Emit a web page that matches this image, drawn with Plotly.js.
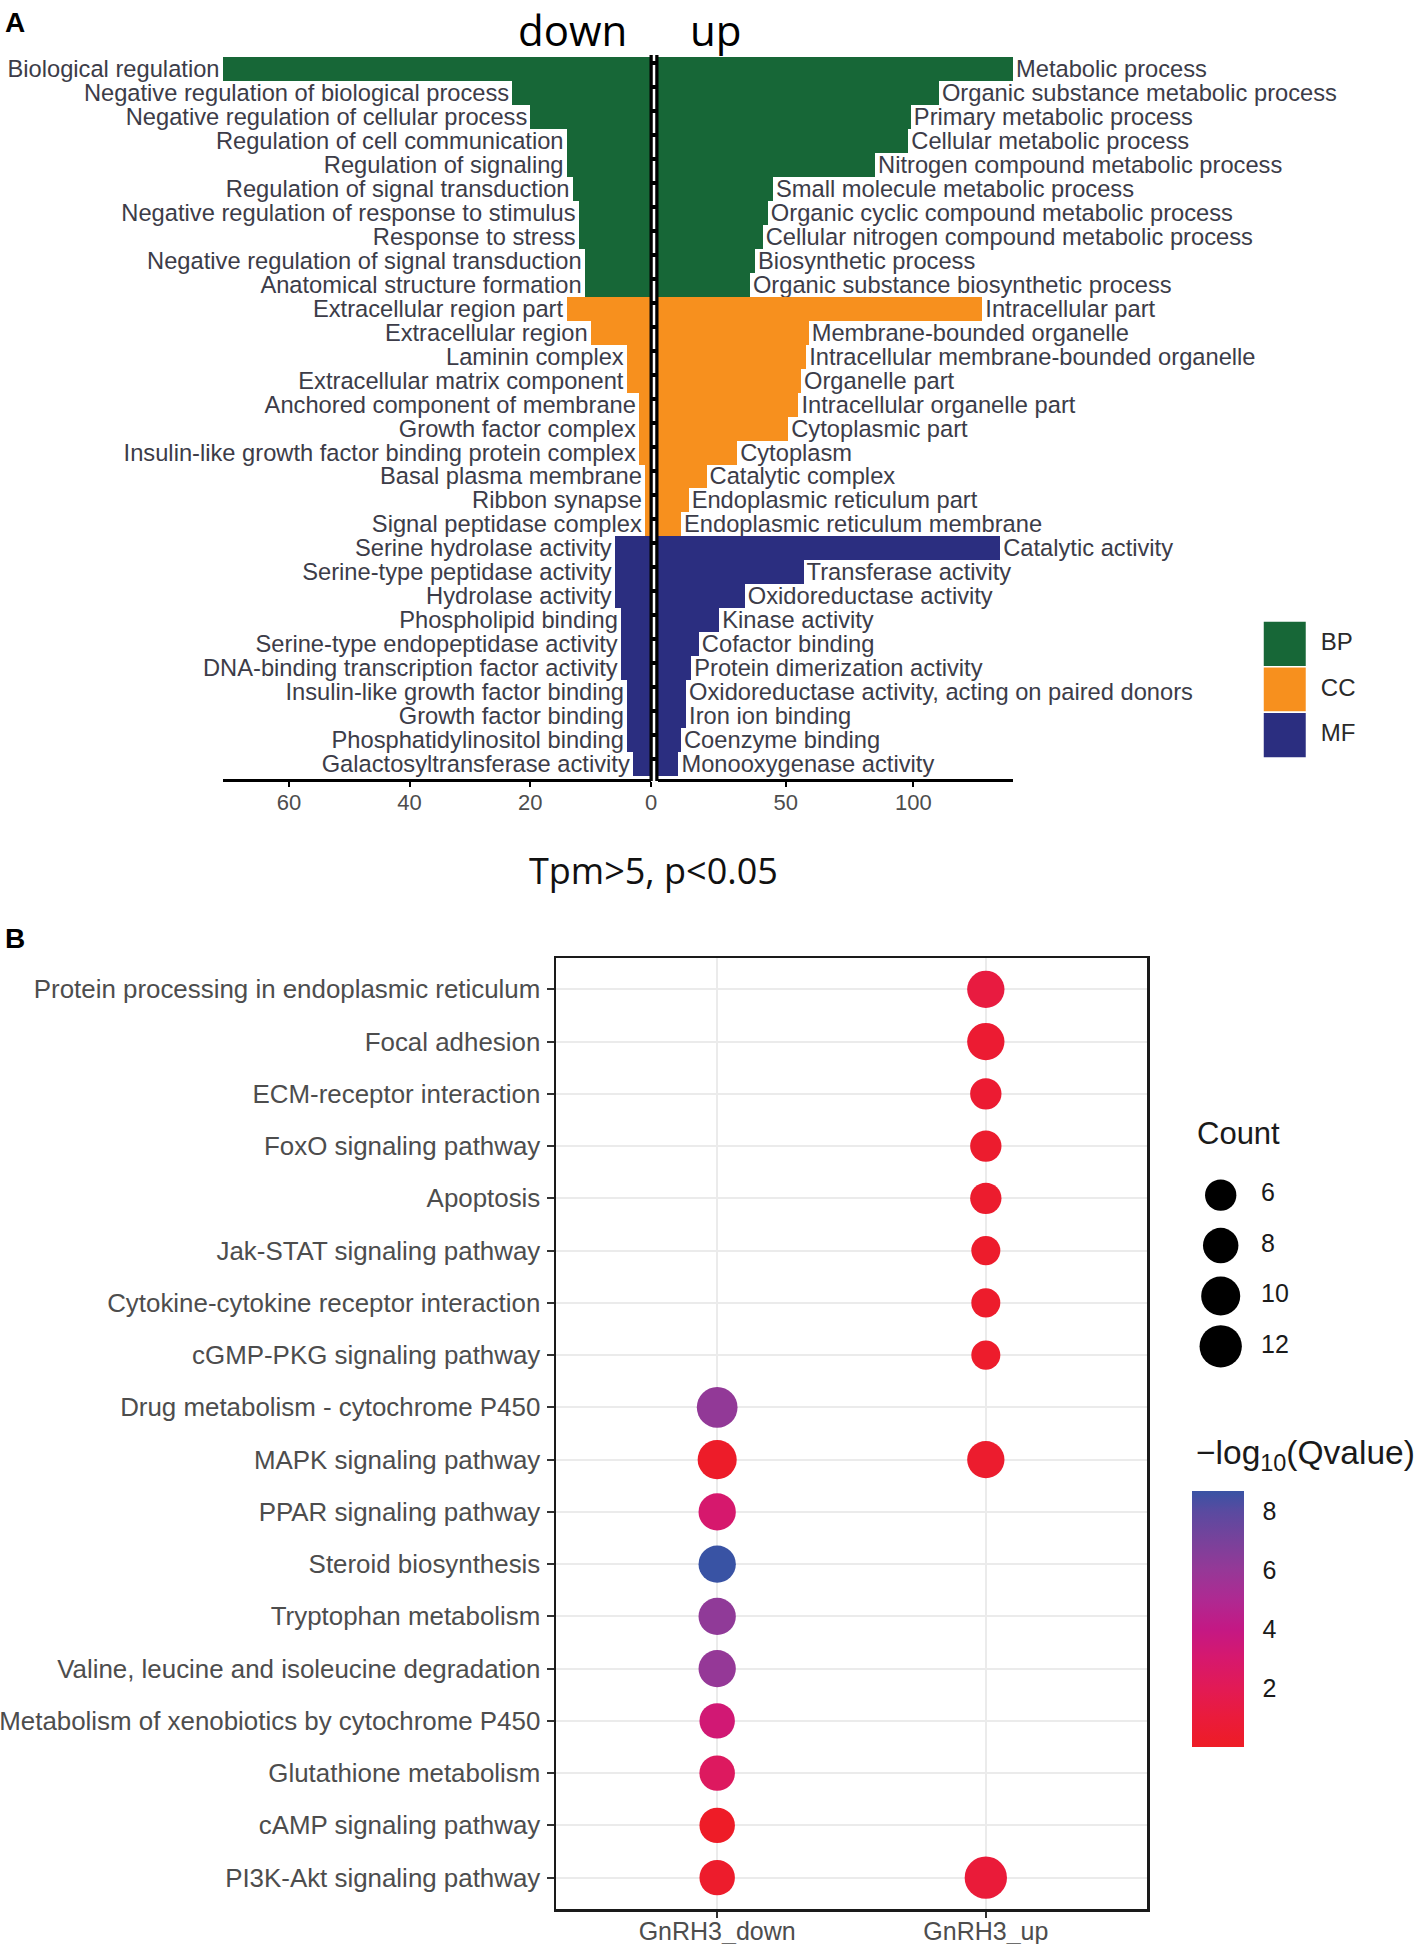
<!DOCTYPE html>
<html>
<head>
<meta charset="utf-8">
<script src="https://cdn.plot.ly/plotly-3.0.1.min.js"></script>
<style>html,body{margin:0;padding:0;background:#fff;}#chart{width:1417px;height:1944px;}</style>
</head>
<body>
<div id="chart"></div>
<script>
// ---------------- Panel A data ----------------
const goCategories = ["BP","BP","BP","BP","BP","BP","BP","BP","BP","BP",
  "CC","CC","CC","CC","CC","CC","CC","CC","CC","CC",
  "MF","MF","MF","MF","MF","MF","MF","MF","MF","MF"];

const downTerms = [
  "Biological regulation","Negative regulation of biological process","Negative regulation of cellular process",
  "Regulation of cell communication","Regulation of signaling","Regulation of signal transduction",
  "Negative regulation of response to stimulus","Response to stress","Negative regulation of signal transduction",
  "Anatomical structure formation",
  "Extracellular region part","Extracellular region","Laminin complex","Extracellular matrix component",
  "Anchored component of membrane","Growth factor complex","Insulin-like growth factor binding protein complex",
  "Basal plasma membrane","Ribbon synapse","Signal peptidase complex",
  "Serine hydrolase activity","Serine-type peptidase activity","Hydrolase activity","Phospholipid binding",
  "Serine-type endopeptidase activity","DNA-binding transcription factor activity","Insulin-like growth factor binding",
  "Growth factor binding","Phosphatidylinositol binding","Galactosyltransferase activity"];
const downCounts = [71,23,20,14,14,13,12,12,11,11,
  14,10,4,4,2,2,2,1,1,1,
  6,6,6,5,5,5,4,4,4,3];

const upTerms = [
  "Metabolic process","Organic substance metabolic process","Primary metabolic process","Cellular metabolic process",
  "Nitrogen compound metabolic process","Small molecule metabolic process","Organic cyclic compound metabolic process",
  "Cellular nitrogen compound metabolic process","Biosynthetic process","Organic substance biosynthetic process",
  "Intracellular part","Membrane-bounded organelle","Intracellular membrane-bounded organelle","Organelle part",
  "Intracellular organelle part","Cytoplasmic part","Cytoplasm","Catalytic complex","Endoplasmic reticulum part",
  "Endoplasmic reticulum membrane",
  "Catalytic activity","Transferase activity","Oxidoreductase activity","Kinase activity","Cofactor binding",
  "Protein dimerization activity","Oxidoreductase activity, acting on paired donors","Iron ion binding",
  "Coenzyme binding","Monooxygenase activity"];
const upCounts = [139,110,99,98,85,45,43,41,38,36,
  127,59,58,56,55,51,31,19,12,9,
  134,57,34,24,16,13,11,11,9,8];

const legendCategories = ["BP","CC","MF"];

// ---------------- Panel B data ----------------
const keggTerms = [
  "Protein processing in endoplasmic reticulum","Focal adhesion","ECM-receptor interaction","FoxO signaling pathway",
  "Apoptosis","Jak-STAT signaling pathway","Cytokine-cytokine receptor interaction","cGMP-PKG signaling pathway",
  "Drug metabolism - cytochrome P450","MAPK signaling pathway","PPAR signaling pathway","Steroid biosynthesis",
  "Tryptophan metabolism","Valine, leucine and isoleucine degradation","Metabolism of xenobiotics by cytochrome P450",
  "Glutathione metabolism","cAMP signaling pathway","PI3K-Akt signaling pathway"];
const keggGroups = ["GnRH3_down","GnRH3_up"];

const pointTerm = [
  "Protein processing in endoplasmic reticulum","Focal adhesion","ECM-receptor interaction","FoxO signaling pathway",
  "Apoptosis","Jak-STAT signaling pathway","Cytokine-cytokine receptor interaction","cGMP-PKG signaling pathway",
  "MAPK signaling pathway","PI3K-Akt signaling pathway",
  "Drug metabolism - cytochrome P450","MAPK signaling pathway","PPAR signaling pathway","Steroid biosynthesis",
  "Tryptophan metabolism","Valine, leucine and isoleucine degradation","Metabolism of xenobiotics by cytochrome P450",
  "Glutathione metabolism","cAMP signaling pathway","PI3K-Akt signaling pathway"];
const pointGroup = ["GnRH3_up","GnRH3_up","GnRH3_up","GnRH3_up","GnRH3_up","GnRH3_up","GnRH3_up","GnRH3_up","GnRH3_up","GnRH3_up",
  "GnRH3_down","GnRH3_down","GnRH3_down","GnRH3_down","GnRH3_down","GnRH3_down","GnRH3_down","GnRH3_down","GnRH3_down","GnRH3_down"];
const pointCount = [9,9,6,6,6,5,5,5,9,12, 11,10,9,9,9,9,8,8,8,8];
const pointQvalue = [1.2,0.6,0.6,0.4,0.4,0.3,0.3,0.3,0.4,0.9, 6.1,0.2,3.0,8.67,6.2,6.0,3.3,2.4,0.1,0.3];

const countBreaks = [6,8,10,12];
const countBreakLabels = ["6","8","10","12"];
const colorTicks = [2,4,6,8];

// ---------------- styling ----------------
const W = 1417, H = 1944;
const px = v => v / W, py = v => 1 - v / H;
const ARIAL = "Arial, 'Liberation Sans', sans-serif";
const catColors = {BP:"#176737", CC:"#f7901e", MF:"#2b2e80"};
const labelFont = {family:ARIAL, size:23.7, color:"#3c3c48"};
const sizeOf = c => 10.83 * Math.sqrt(c) + 4.8;
const qScale = [[0,"#ee1c25"],[0.115,"#ea1b3b"],[0.23,"#e21a55"],[0.35,"#d6186e"],[0.46,"#c41884"],
  [0.58,"#ae2a92"],[0.69,"#963897"],[0.81,"#77429b"],[0.92,"#5a4aa0"],[1,"#3953a4"]];

const rowIdx = downTerms.map((_, i) => i);

const traces = [
  { type:"bar", orientation:"h", xaxis:"x", yaxis:"y",
    x: downCounts, y: rowIdx, width: 1,
    marker:{color: goCategories.map(c => catColors[c]), line:{width:0}},
    text: downTerms, textposition:"outside", cliponaxis:false, constraintext:"none", textangle:0,
    outsidetextfont: labelFont, hoverinfo:"skip" },
  { type:"bar", orientation:"h", xaxis:"x2", yaxis:"y",
    x: upCounts, y: rowIdx, width: 1,
    marker:{color: goCategories.map(c => catColors[c]), line:{width:0}},
    text: upTerms, textposition:"outside", cliponaxis:false, constraintext:"none", textangle:0,
    outsidetextfont: labelFont, hoverinfo:"skip" },
  // GO category key
  { type:"bar", orientation:"h", xaxis:"x5", yaxis:"y5",
    x: legendCategories.map(() => 1), y: legendCategories, width: 1,
    marker:{color: legendCategories.map(c => catColors[c]), line:{color:"#ffffff", width:1.5}},
    hoverinfo:"skip" },
  { type:"scatter", mode:"text", xaxis:"x5", yaxis:"y5",
    x: legendCategories.map(() => 1.33), y: legendCategories, text: legendCategories,
    textposition:"middle right", cliponaxis:false,
    textfont:{family:ARIAL, size:24, color:"#2a2a2a"}, hoverinfo:"skip" },
  // KEGG bubbles
  { type:"scatter", mode:"markers", xaxis:"x3", yaxis:"y3",
    x: pointGroup, y: pointTerm, cliponaxis:false,
    marker:{ size: pointCount.map(sizeOf), sizemode:"diameter", opacity:1,
      color: pointQvalue, colorscale: qScale, cmin: 0, cmax: Math.max(...pointQvalue),
      line:{width:0},
      showscale:true,
      colorbar:{ x:px(1192), xanchor:"left", xref:"paper", y:py(1619), yanchor:"middle", yref:"paper",
        len:256, lenmode:"pixels", thickness:52, thicknessmode:"pixels", xpad:0, ypad:0,
        outlinewidth:0, tickvals: colorTicks, ticks:"outside", ticklen:14, tickcolor:"rgba(0,0,0,0)",
        tickfont:{family:ARIAL, size:25, color:"#1a1a1a"} } },
    hoverinfo:"skip" },
  // Count size key
  { type:"scatter", mode:"markers", xaxis:"x4", yaxis:"y4",
    x: countBreaks.map(() => 30.7), y: countBreaks, cliponaxis:false,
    marker:{size: countBreaks.map(sizeOf), sizemode:"diameter", color:"#000000", opacity:1, line:{width:0}},
    hoverinfo:"skip" },
  { type:"scatter", mode:"text", xaxis:"x4", yaxis:"y4",
    x: countBreaks.map(() => 71), y: countBreaks, text: countBreakLabels,
    textposition:"middle right", cliponaxis:false,
    textfont:{family:ARIAL, size:25, color:"#1a1a1a"}, hoverinfo:"skip" }
];

const axA = {
  showline:true, linecolor:"#000000", linewidth:3, ticks:"outside", ticklen:5, tickwidth:2, tickcolor:"#000000",
  tickfont:{family:ARIAL, size:22, color:"#4d4d4d"}, ticklabelstandoff:-3,
  showgrid:false, zeroline:false, fixedrange:true, anchor:"y"
};

const layout = {
  width:W, height:H, margin:{l:0, r:0, t:0, b:0},
  paper_bgcolor:"#ffffff", plot_bgcolor:"#ffffff",
  showlegend:false, bargap:0,
  font:{family:ARIAL, color:"#333333"},
  xaxis: Object.assign({}, axA, {domain:[px(222.5), px(651)], range:[71, 0], tickvals:[0,20,40,60]}),
  xaxis2: Object.assign({}, axA, {domain:[px(658), px(1013)], range:[0, 139], tickvals:[50,100]}),
  yaxis: {domain:[py(779), py(57)], range:[29.62, -0.5], visible:false, fixedrange:true},
  xaxis3: {domain:[px(556), px(1147)], anchor:"y3", type:"category", categoryarray:keggGroups, categoryorder:"array",
    range:[-0.6, 1.6], showline:true, mirror:true, linecolor:"#1a1a1a", linewidth:2.5,
    showgrid:true, gridcolor:"#ebebeb", gridwidth:2, zeroline:false,
    ticks:"outside", ticklen:6, tickwidth:2, tickcolor:"#333333", ticklabelstandoff:-8,
    tickfont:{family:ARIAL, size:25, color:"#4d4d4d"}},
  yaxis3: {domain:[py(1909), py(958)], anchor:"x3", type:"category", categoryarray:keggTerms, categoryorder:"array",
    range:[17.6, -0.6], showline:true, mirror:true, linecolor:"#1a1a1a", linewidth:2.5,
    showgrid:true, gridcolor:"#ebebeb", gridwidth:2, zeroline:false,
    ticks:"outside", ticklen:7, tickwidth:2, tickcolor:"#333333", ticklabelstandoff:1,
    tickfont:{family:ARIAL, size:25.9, color:"#4d4d4d"}},
  xaxis4: {domain:[px(1190), px(1300)], anchor:"y4", range:[0, 110], visible:false},
  yaxis4: {domain:[py(1371.5), py(1170)], anchor:"x4", range:[13, 5], visible:false},
  xaxis5: {domain:[px(1263), px(1400)], anchor:"y5", range:[0, 3.15], visible:false},
  yaxis5: {domain:[py(758), py(621)], anchor:"x5", type:"category", categoryarray:legendCategories,
    categoryorder:"array", range:[2.5, -0.5], visible:false},
  shapes: [
    {type:"line", xref:"paper", yref:"paper", x0:px(654), x1:px(654), y0:py(781), y1:py(55),
      line:{color:"#000000", width:9}},
    {type:"line", xref:"paper", yref:"paper", x0:px(654), x1:px(654), y0:py(781), y1:py(55),
      line:{color:"#ffffff", width:2.5, dash:"20px,4px"}}
  ],
  annotations: [
    {text:"<b>A</b>", xref:"paper", yref:"paper", x:px(3), y:py(22.5), xanchor:"left", yanchor:"middle",
      showarrow:false, font:{family:ARIAL, size:28, color:"#000000"}},
    {text:"down", xref:"paper", yref:"paper", x:px(628), y:1, xanchor:"right", yanchor:"top", borderpad:0,
      showarrow:false, font:{family:"'Open Sans', sans-serif", size:42, color:"#000000"}},
    {text:"up", xref:"paper", yref:"paper", x:px(689), y:1, xanchor:"left", yanchor:"top", borderpad:0,
      showarrow:false, font:{family:"'Open Sans', sans-serif", size:42, color:"#000000"}},
    {text:"Tpm&gt;5, p&lt;0.05", xref:"paper", yref:"paper", x:px(653), y:py(870), xanchor:"center", yanchor:"middle",
      showarrow:false, font:{family:"'Open Sans', sans-serif", size:36, color:"#111111"}},
    {text:"<b>B</b>", xref:"paper", yref:"paper", x:px(3), y:py(938), xanchor:"left", yanchor:"middle",
      showarrow:false, font:{family:ARIAL, size:28, color:"#000000"}},
    {text:"Count", xref:"paper", yref:"paper", x:px(1195), y:py(1133), xanchor:"left", yanchor:"middle",
      showarrow:false, font:{family:ARIAL, size:31, color:"#1a1a1a"}},
    {text:"\u2212log<sub>10</sub>(Qvalue)", xref:"paper", yref:"paper", x:px(1194), y:py(1455), xanchor:"left", yanchor:"middle",
      showarrow:false, font:{family:ARIAL, size:33.5, color:"#1a1a1a"}}
  ]
};

Plotly.newPlot("chart", traces, layout, {staticPlot:true, displayModeBar:false});
</script>
</body>
</html>
